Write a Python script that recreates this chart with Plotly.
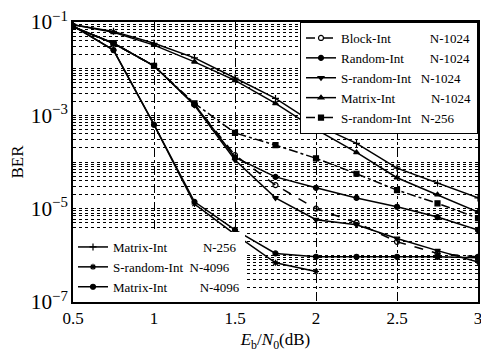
import plotly.graph_objects as go

ebn0 = [0.5, 0.75, 1.0, 1.25, 1.5, 1.75, 2.0, 2.25, 2.5, 2.75, 3.0]

block_1024 = [7.9e-2, 3.5e-2, 1.15e-2, 1.7e-3, 1.4e-4, 3.2e-5, 1.0e-5, 5.0e-6, 1.95e-6, 1.1e-6, 9.3e-7]
random_1024 = [7.9e-2, 3.5e-2, 1.15e-2, 1.7e-3, 1.26e-4, 4.8e-5, 2.8e-5, 1.7e-5, 1.1e-5, 6.6e-6, 3.5e-6]
srandom_1024 = [7.9e-2, 3.5e-2, 1.15e-2, 1.65e-3, 1.1e-4, 1.7e-5, 5.8e-6, 4.5e-6, 2.3e-6, 1.26e-6, 7.2e-7]
matrix_1024 = [8.7e-2, 6.0e-2, 3.2e-2, 1.4e-2, 5.6e-3, 1.8e-3, 5.0e-4, 1.6e-4, 4.6e-5, 2.0e-5, 8.5e-6]
srandom_256 = [7.9e-2, 3.5e-2, 1.15e-2, 1.8e-3, 4.2e-4, 2.3e-4, 1.2e-4, 5.6e-5, 2.5e-5, 1.3e-5, 6.3e-6]
matrix_256 = [8.7e-2, 6.3e-2, 3.5e-2, 1.7e-2, 6.3e-3, 2.3e-3, 6.3e-4, 2.5e-4, 7.4e-5, 3.5e-5, 1.7e-5]
srandom_4096 = [8.3e-2, 2.5e-2, 6.3e-4, 1.26e-5, 2.8e-6, 6.9e-7, 4.5e-7, None, None, None, None]
matrix_4096 = [8.3e-2, 2.5e-2, 6.3e-4, 1.4e-5, 3.5e-6, 1.1e-6, 9.3e-7, 9.3e-7, 9.3e-7, 9.3e-7, 8.9e-7]

NB = "\u00a0"
series = [
    ("Block-Int" + NB * 12 + "N-1024", block_1024, "dash", "circle-open", "legend"),
    ("Random-Int" + NB * 8 + "N-1024", random_1024, "solid", "circle", "legend"),
    ("S-random-Int" + NB * 3 + "N-1024", srandom_1024, "solid", "triangle-down", "legend"),
    ("Matrix-Int" + NB * 11 + "N-1024", matrix_1024, "solid", "triangle-up", "legend"),
    ("S-random-Int" + NB * 3 + "N-256", srandom_256, "dashdot", "square", "legend"),
    ("Matrix-Int" + NB * 11 + "N-256", matrix_256, "solid", "cross-thin", "legend2"),
    ("S-random-Int" + NB * 2 + "N-4096", srandom_4096, "solid", "asterisk", "legend2"),
    ("Matrix-Int" + NB * 10 + "N-4096", matrix_4096, "solid", "circle", "legend2"),
]

fig = go.Figure()
for name, vals, dash, sym, lg in series:
    fig.add_trace(go.Scatter(
        x=ebn0, y=vals, name=name, mode="lines+markers",
        line=dict(color="black", width=1.5, dash=dash),
        marker=dict(symbol=sym, size=5, color="black",
                    line=dict(color="black", width=1.2)),
        legend=lg, connectgaps=False,
    ))

font_family = "Liberation Serif, Times New Roman, serif"
fig.update_layout(
    width=489, height=356,
    margin=dict(l=65, r=19, t=14, b=62, autoexpand=False),
    paper_bgcolor="white", plot_bgcolor="white",
    font=dict(family=font_family, size=17, color="black"),
    showlegend=True,
    legend=dict(x=1, y=1, xanchor="right", yanchor="top",
                bgcolor="white", bordercolor="black", borderwidth=1,
                font=dict(size=13), tracegroupgap=0, itemwidth=30,
                traceorder="normal"),
    legend2=dict(x=0, y=0, xanchor="left", yanchor="bottom",
                 bgcolor="white", borderwidth=0,
                 font=dict(size=13), tracegroupgap=0, itemwidth=30,
                 traceorder="normal"),
)
fig.update_xaxes(
    range=[0.5, 3], tickmode="array",
    tickvals=[0.5, 1, 1.5, 2, 2.5, 3],
    ticktext=["0.5", "1", "1.5", "2", "2.5", "3"],
    showline=True, mirror=True, linecolor="black", linewidth=1.5,
    showgrid=True, gridcolor="black", griddash="dashdot", gridwidth=1,
    ticks="", zeroline=False, ticklabeloverflow="allow",
    title=dict(text="<i>E</i><sub>b</sub>/<i>N</i><sub>0</sub>(dB)", standoff=6,
               font=dict(size=17)),
)
fig.update_yaxes(
    type="log", range=[-7, -1], dtick=2, tick0=-1,
    exponentformat="power", showexponent="all",
    showline=True, mirror=True, linecolor="black", linewidth=1.5,
    showgrid=True, gridcolor="black", griddash="dot", gridwidth=1,
    minor=dict(dtick="D1", showgrid=True, gridcolor="black",
               griddash="dot", gridwidth=1, ticks=""),
    ticks="", zeroline=False, ticklabeloverflow="allow",
    title=dict(text="BER", standoff=8, font=dict(size=17)),
)

fig.write_html("out.html")
